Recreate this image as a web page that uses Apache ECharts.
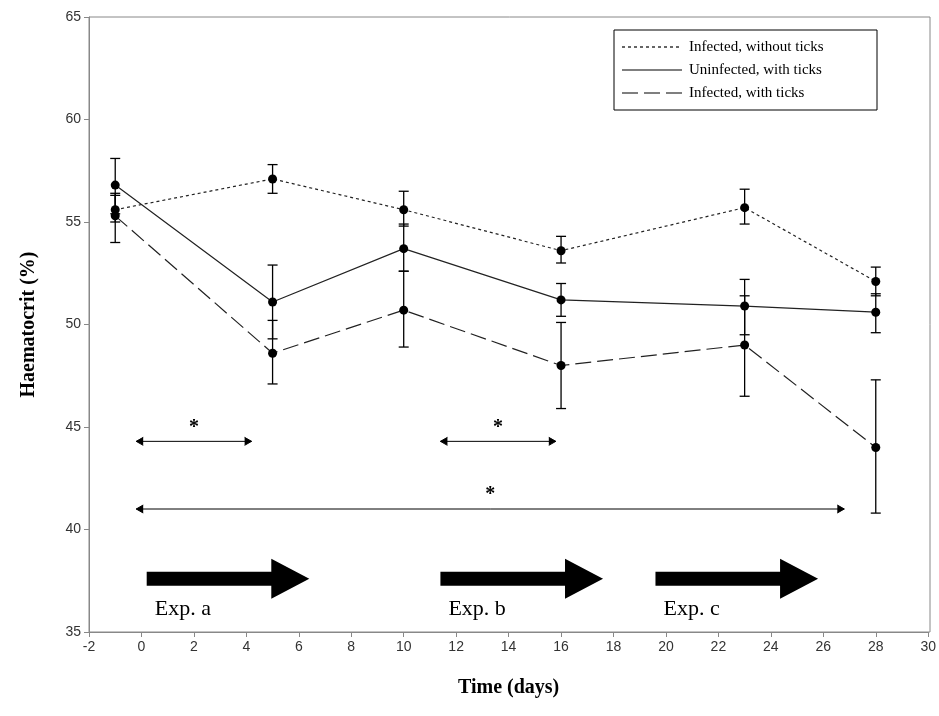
<!DOCTYPE html>
<html>
<head>
<meta charset="UTF-8">
<title>Haematocrit</title>
<script src="https://cdn.jsdelivr.net/npm/echarts@6/dist/echarts.min.js"></script>
<style>
html, body { margin: 0; padding: 0; background: #fff; }
#main { width: 939px; height: 716px; }
</style>
</head>
<body>
<div id="main"></div>
<script>
var days = [-1, 5, 10, 16, 23, 28];
// mean, low, high
var infNoTicks = [55.6, 57.1, 55.6, 53.6, 55.7, 52.1];
var infNoTicksLo = [55.0, 56.4, 54.8, 53.0, 54.9, 51.4];
var infNoTicksHi = [56.3, 57.8, 56.5, 54.3, 56.6, 52.8];
var uninfTicks = [56.8, 51.1, 53.7, 51.2, 50.9, 50.6];
var uninfTicksLo = [55.4, 49.3, 52.6, 50.4, 49.5, 49.6];
var uninfTicksHi = [58.1, 52.9, 54.9, 52.0, 52.2, 51.5];
var infTicks = [55.3, 48.6, 50.7, 48.0, 49.0, 44.0];
var infTicksLo = [54.0, 47.1, 48.9, 45.9, 46.5, 40.8];
var infTicksHi = [56.4, 50.2, 52.6, 50.1, 51.4, 47.3];

var seriesNames = ['Infected, without ticks', 'Uninfected, with ticks', 'Infected, with ticks'];
var seriesDash = [[3, 3], 'solid', [16, 6]];

// significance brackets: [x0, x1, y]
var brackets = [[-0.2, 4.2, 44.3], [11.4, 15.8, 44.3], [-0.2, 26.8, 41.0]];
// experiment arrows: [x0, x1, y, label]
var expArrows = [[0.2, 6.4, 37.6, 'Exp. a'], [11.4, 17.6, 37.6, 'Exp. b'], [19.6, 25.8, 37.6, 'Exp. c']];

function pairs(ys) { return days.map(function (d, i) { return [d, ys[i]]; }); }
function errData(lo, hi) { return days.map(function (d, i) { return [d, lo[i], hi[i]]; }); }

function errSeries(lo, hi) {
  return {
    type: 'custom', silent: true, z: 3,
    data: errData(lo, hi),
    renderItem: function (params, api) {
      var a = api.coord([api.value(0), api.value(1)]);
      var b = api.coord([api.value(0), api.value(2)]);
      var w = 5;
      var st = { stroke: '#000', lineWidth: 1.3 };
      return { type: 'group', children: [
        { type: 'line', shape: { x1: a[0], y1: a[1], x2: b[0], y2: b[1] }, style: st },
        { type: 'line', shape: { x1: a[0] - w, y1: a[1], x2: a[0] + w, y2: a[1] }, style: st },
        { type: 'line', shape: { x1: b[0] - w, y1: b[1], x2: b[0] + w, y2: b[1] }, style: st }
      ] };
    }
  };
}

function lineSeries(i, ys) {
  return {
    name: seriesNames[i], type: 'line', data: pairs(ys), symbol: 'circle', symbolSize: 9,
    itemStyle: { color: '#000' },
    lineStyle: { color: '#222', width: 1.2, type: seriesDash[i] },
    z: 4
  };
}

// legend drawn as graphic so line dashes show
var legendG = [{ type: 'rect', shape: { x: 614, y: 30, width: 263, height: 80 }, style: { fill: '#fff', stroke: '#000', lineWidth: 1 } }];
seriesNames.forEach(function (n, i) {
  var y = 47 + i * 23;
  legendG.push({ type: 'line', shape: { x1: 622, y1: y, x2: 682, y2: y }, style: { stroke: '#000', lineWidth: 1.2, lineDash: seriesDash[i] === 'solid' ? null : seriesDash[i] } });
  legendG.push({ type: 'text', x: 689, y: y, style: { text: n, font: '15px Liberation Serif', fill: '#000', verticalAlign: 'middle' } });
});

var chart = echarts.init(document.getElementById('main'));
chart.setOption({
  animation: false,
  grid: { left: 89, right: 9, top: 17, bottom: 84 },
  xAxis: {
    type: 'value', min: -2, max: 30, interval: 2,
    name: 'Time (days)', nameLocation: 'middle', nameGap: 46,
    nameTextStyle: { fontFamily: 'Liberation Serif', fontWeight: 'bold', fontSize: 20, color: '#000' },
    axisLine: { lineStyle: { color: '#888' } },
    axisTick: { lineStyle: { color: '#888' } },
    axisLabel: { fontFamily: 'Liberation Sans', fontSize: 14, color: '#333' },
    splitLine: { show: false }
  },
  yAxis: {
    type: 'value', min: 35, max: 65, interval: 5,
    name: 'Haematocrit (%)', nameLocation: 'middle', nameGap: 50,
    nameTextStyle: { fontFamily: 'Liberation Serif', fontWeight: 'bold', fontSize: 20, color: '#000' },
    axisLine: { show: true, onZero: false, lineStyle: { color: '#888' } },
    axisTick: { show: true, lineStyle: { color: '#888' } },
    axisLabel: { fontFamily: 'Liberation Sans', fontSize: 14, color: '#333' },
    splitLine: { show: false }
  },
  graphic: [{ type: 'rect', shape: { x: 89, y: 17, width: 841, height: 615 }, style: { fill: 'none', stroke: '#888', lineWidth: 1 }, silent: true }]
    .concat([{ type: 'group', z: 100, children: legendG }]),
  series: [
    lineSeries(0, infNoTicks),
    lineSeries(1, uninfTicks),
    lineSeries(2, infTicks),
    errSeries(infNoTicksLo, infNoTicksHi),
    errSeries(uninfTicksLo, uninfTicksHi),
    errSeries(infTicksLo, infTicksHi),
    {
      type: 'custom', silent: true, data: brackets,
      renderItem: function (params, api) {
        var a = api.coord([api.value(0), api.value(2)]);
        var b = api.coord([api.value(1), api.value(2)]);
        var st = { stroke: '#000', lineWidth: 1 };
        return { type: 'group', children: [
          { type: 'line', shape: { x1: a[0], y1: a[1], x2: b[0], y2: b[1] }, style: st },
          { type: 'polyline', shape: { points: [[a[0] + 7, a[1] - 4], [a[0], a[1]], [a[0] + 7, a[1] + 4]] }, style: st },
          { type: 'polyline', shape: { points: [[b[0] - 7, b[1] - 4], [b[0], b[1]], [b[0] - 7, b[1] + 4]] }, style: st },
          { type: 'text', x: (a[0] + b[0]) / 2, y: a[1] - 4, style: { text: '*', font: 'bold 20px Liberation Serif', fill: '#000', align: 'center', verticalAlign: 'bottom' } }
        ] };
      }
    },
    {
      type: 'custom', silent: true, data: expArrows,
      renderItem: function (params, api) {
        var a = api.coord([api.value(0), api.value(2)]);
        var b = api.coord([api.value(1), api.value(2)]);
        var h = 7, hh = 20, hl = 38;
        var pts = [[a[0], a[1] - h], [b[0] - hl, a[1] - h], [b[0] - hl, a[1] - hh], [b[0], a[1]],
                   [b[0] - hl, a[1] + hh], [b[0] - hl, a[1] + h], [a[0], a[1] + h]];
        var lbl = expArrows[params.dataIndex][3];
        return { type: 'group', children: [
          { type: 'polygon', shape: { points: pts }, style: { fill: '#000' } },
          { type: 'text', x: a[0] + 8, y: a[1] + 20, style: { text: lbl, font: '22px Liberation Serif', fill: '#000' } }
        ] };
      }
    }
  ]
});
</script>
</body>
</html>
